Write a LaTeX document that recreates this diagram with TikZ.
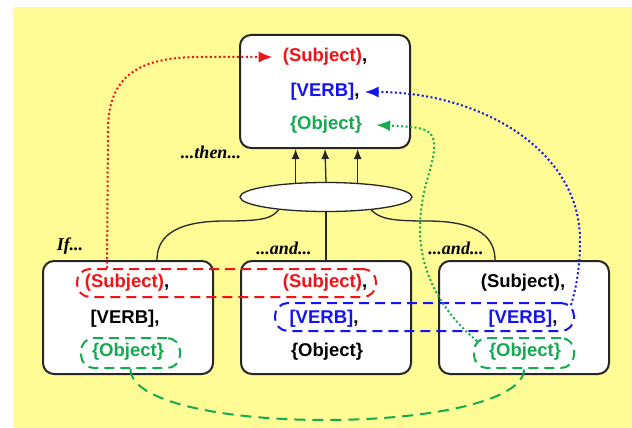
\documentclass[tikz,border=0pt]{standalone}
\usepackage{fontspec}
\setmainfont{Liberation Sans}
\newfontfamily\lblfont{Liberation Serif}
\usetikzlibrary{shapes.geometric,arrows.meta,calc}
\definecolor{bgy}{RGB}{255,252,150}
\definecolor{cred}{RGB}{240,20,25}
\definecolor{cblue}{RGB}{20,20,240}
\definecolor{cgreen}{RGB}{20,170,80}
\begin{document}
\begin{tikzpicture}[x=1pt,y=-1pt,
 box/.style={draw=black!85,line width=2pt,fill=white,rounded corners=11pt,minimum width=170pt,minimum height=113pt,inner sep=0pt},
 txt/.style={font=\fontsize{18.5}{22}\selectfont\bfseries,inner sep=0pt},
 lbl/.style={font=\lblfont\fontsize{18}{20}\selectfont\bfseries\itshape,inner sep=0pt},
 dloop/.style={draw,line width=2pt,dash pattern=on 10pt off 6pt,rounded corners=13pt,minimum height=28pt,inner sep=0pt},
 dotarrow/.style={line width=2pt,dash pattern=on 2pt off 2.5pt,-{Latex[length=14pt,width=11pt]}},
 conn/.style={line width=1.3pt,draw=black!85},
 uparrow/.style={conn,-{Latex[length=10pt,width=8pt]}},
 gdash/.style={draw=cgreen,line width=2pt,dash pattern=on 11pt off 7pt}
]
\useasboundingbox (0,0) rectangle (632,428);
\fill[bgy] (13,7) rectangle (632,428);

% boxes
\node[box] (top) at (325,91.5) {};
\node[box] (lb) at (128,317.5) {};
\node[box] (mb) at (326,317.5) {};
\node[box] (rb) at (524,317.5) {};

% texts top
\node[txt] (t1) at (325,57) {\textcolor{cred}{(Subject)},};
\node[txt] (t2) at (325,92) {\textcolor{cblue}{[VERB]},};
\node[txt] (t3) at (326,125) {\textcolor{cgreen}{\{Object\}}};
% texts left
\node[txt] (l1) at (127,283) {\textcolor{cred}{(Subject)},};
\node[txt] (l2) at (125,319) {[VERB],};
\node[txt] (l3) at (128,352) {\textcolor{cgreen}{\{Object\}}};
% texts middle
\node[txt] (m1) at (325,283) {\textcolor{cred}{(Subject)},};
\node[txt] (m2) at (324,319) {\textcolor{cblue}{[VERB]},};
\node[txt] (m3) at (327,352) {\{Object\}};
% texts right
\node[txt] (r1) at (523,283) {(Subject),};
\node[txt] (r2) at (523,319) {\textcolor{cblue}{[VERB]},};
\node[txt] (r3) at (525,352) {\textcolor{cgreen}{\{Object\}}};

% ellipse
\node[draw=black!85,line width=1.3pt,fill=white,ellipse,minimum width=172pt,minimum height=29pt,inner sep=0pt] (ell) at (326,197) {};

% labels
\node[lbl] (then) at (211,152) {...then...};
\node[lbl] (if) at (70,246) {If...};
\node[lbl] (and1) at (284,248) {...and...};
\node[lbl] (and2) at (456,248) {...and...};

% arrows from ellipse to top box
\draw[uparrow] (ell.155.6) -- (ell.155.6 |- top.south);
\draw[uparrow] (ell.90) -- (top.south);
\draw[uparrow] (ell.24.4) -- (ell.24.4 |- top.south);

% lines from ellipse to bottom boxes
\coordinate (lbin) at ($(lb.north)+(29,0)$);
\coordinate (rbin) at ($(rb.north)+(-29,0)$);
\draw[conn] (ell.195.9) .. controls (272,219) and (260,221) .. (225,221) .. controls (170,221) and (157,240) .. (lbin);
\draw[conn] (ell.270) -- (mb.north);
\draw[conn] (ell.344.1) .. controls (380,219) and (392,221) .. (427,221) .. controls (482,221) and (495,240) .. (rbin);

% dashed loops
\node[dloop,draw=cred,minimum width=299pt] (rl) at (226.5,283) {};
\node[dloop,draw=cblue,minimum width=299pt] (bl) at (424.5,317) {};
\node[dloop,draw=cgreen,minimum width=99pt,minimum height=30pt] (gl) at (130.5,353) {};
\node[dloop,draw=cgreen,minimum width=100pt,minimum height=30pt] (gr) at (524,353) {};

% green dashed bottom link
\draw[gdash] (gl.south) .. controls ($(gl.south)+(0,32)$) and (220,420) .. (325,420) .. controls (430,420) and ($(gr.south)+(0,32)$) .. (gr.south);

% dotted arrows
\coordinate (rs) at ($(rl.north west)+(31,0)$);
\draw[dotarrow,cred] (rs) -- (108,130) .. controls (108,75) and (140,57) .. (200,57) -- ($(t1.west)+(-10,0)$);
\coordinate (bs) at ($(bl.north east)+(-4,3)$);
\draw[dotarrow,cblue] (bs) .. controls (577,285) and (580,265) .. (580,240) .. controls (580,150) and (480,92) .. ($(t2.east)+(5,0)$);
\coordinate (gs) at ($(gr.north west)+(4,4)$);
\draw[dotarrow,cgreen] (gs) .. controls (445,315) and (420,275) .. (420,230) .. controls (420,185) and (436,165) .. (434,142) .. controls (432,128) and (420,127) .. ($(t3.east)+(14,0)$);
\end{tikzpicture}
\end{document}
